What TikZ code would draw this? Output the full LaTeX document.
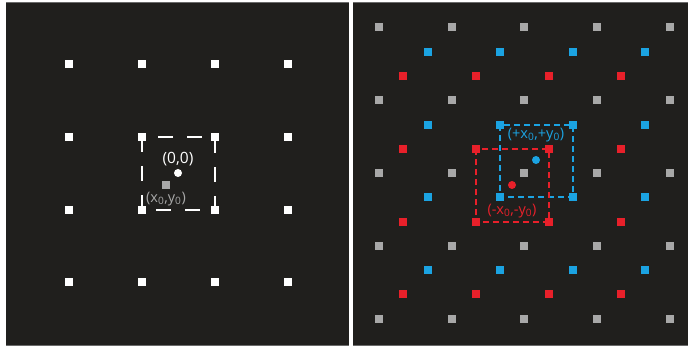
\documentclass[tikz,border=0pt]{standalone}
\usepackage{fontspec}
\setmainfont{Open Sans}
\definecolor{panelbg}{HTML}{201F1D}
\definecolor{panelline}{HTML}{6A6A6A}
\definecolor{ptgray}{HTML}{A8A8A8}
\definecolor{ptblue}{HTML}{1BA3E2}
\definecolor{ptred}{HTML}{E8202A}
\tikzset{
  dot/.style={draw=none, fill=#1, minimum size=7.5pt, inner sep=0pt},
  roundpt/.style={circle, fill=#1, minimum size=8pt, inner sep=0pt},
  wide dash/.style={draw=white, line width=1.4pt, dash pattern=on 15pt off 14pt},
  short dash/.style={draw=#1, line width=1.2pt, dash pattern=on 6pt off 4pt},
  lbl/.style={text=#1, inner sep=0pt, font=\fontsize{14.5}{16}\selectfont}
}
\begin{document}
\begin{tikzpicture}[x=1pt, y=-1pt]
  \useasboundingbox (0,0) rectangle (688,347);
  \fill[white] (0,0) rectangle (688,347);
  % panels
  \fill[panelbg] (6,2) rectangle (349,345);
  \fill[panelbg] (353,2) rectangle (688,345);
  \draw[panelline, line width=0.8pt] (6,2) -- (349,2) (6,345) -- (349,345);
  \draw[panelline, line width=0.8pt] (353,2) -- (688,2) (353,345) -- (688,345);

  % left lattice
  \foreach \i/\x in {1/69,2/142,3/215,4/288}
    \foreach \j/\y in {1/64,2/137,3/210,4/282}
      \node[dot=white, minimum size=8pt] (w-\i-\j) at (\x,\y) {};
  \draw[wide dash] (w-2-2.center) rectangle (w-3-3.center);
  \node[roundpt=white] (o) at (178,173) {};
  \node[lbl=white, font=\fontsize{15.5}{17}\selectfont] (olbl) at (178,159) {(0,0)};
  \node[dot=ptgray, minimum size=8pt] (s) at (166,185) {};
  \node[lbl=ptgray] (slbl) at (166,199) {(x\textsubscript{0},y\textsubscript{0})};

  % right lattice: gray
  \foreach \i/\x in {1/379,2/452,3/524,4/597,5/670}
    \foreach \j/\y in {1/27,2/100,3/173,4/246,5/319}
      \node[dot=ptgray] (g-\i-\j) at (\x,\y) {};
  % blue
  \foreach \i/\x in {1/428,2/500,3/573,4/645}
    \foreach \j/\y in {1/52,2/125,3/197,4/270}
      \node[dot=ptblue] (b-\i-\j) at (\x,\y) {};
  % red
  \foreach \i/\x in {1/403,2/476,3/549,4/621}
    \foreach \j/\y in {1/76,2/149,3/222,4/294}
      \node[dot=ptred] (r-\i-\j) at (\x,\y) {};

  \draw[short dash=ptblue] (b-2-2.center) rectangle (b-3-3.center);
  \draw[short dash=ptred] (r-2-2.center) rectangle (r-3-3.center);
  \node[roundpt=ptblue] (bp) at (536,160) {};
  \node[roundpt=ptred] (rp) at (512,185) {};
  \node[lbl=ptblue] (bplbl) at (536,135) {(+x\textsubscript{0},+y\textsubscript{0})};
  \node[lbl=ptred] (rplbl) at (512,211) {(-x\textsubscript{0},-y\textsubscript{0})};
\end{tikzpicture}
\end{document}
